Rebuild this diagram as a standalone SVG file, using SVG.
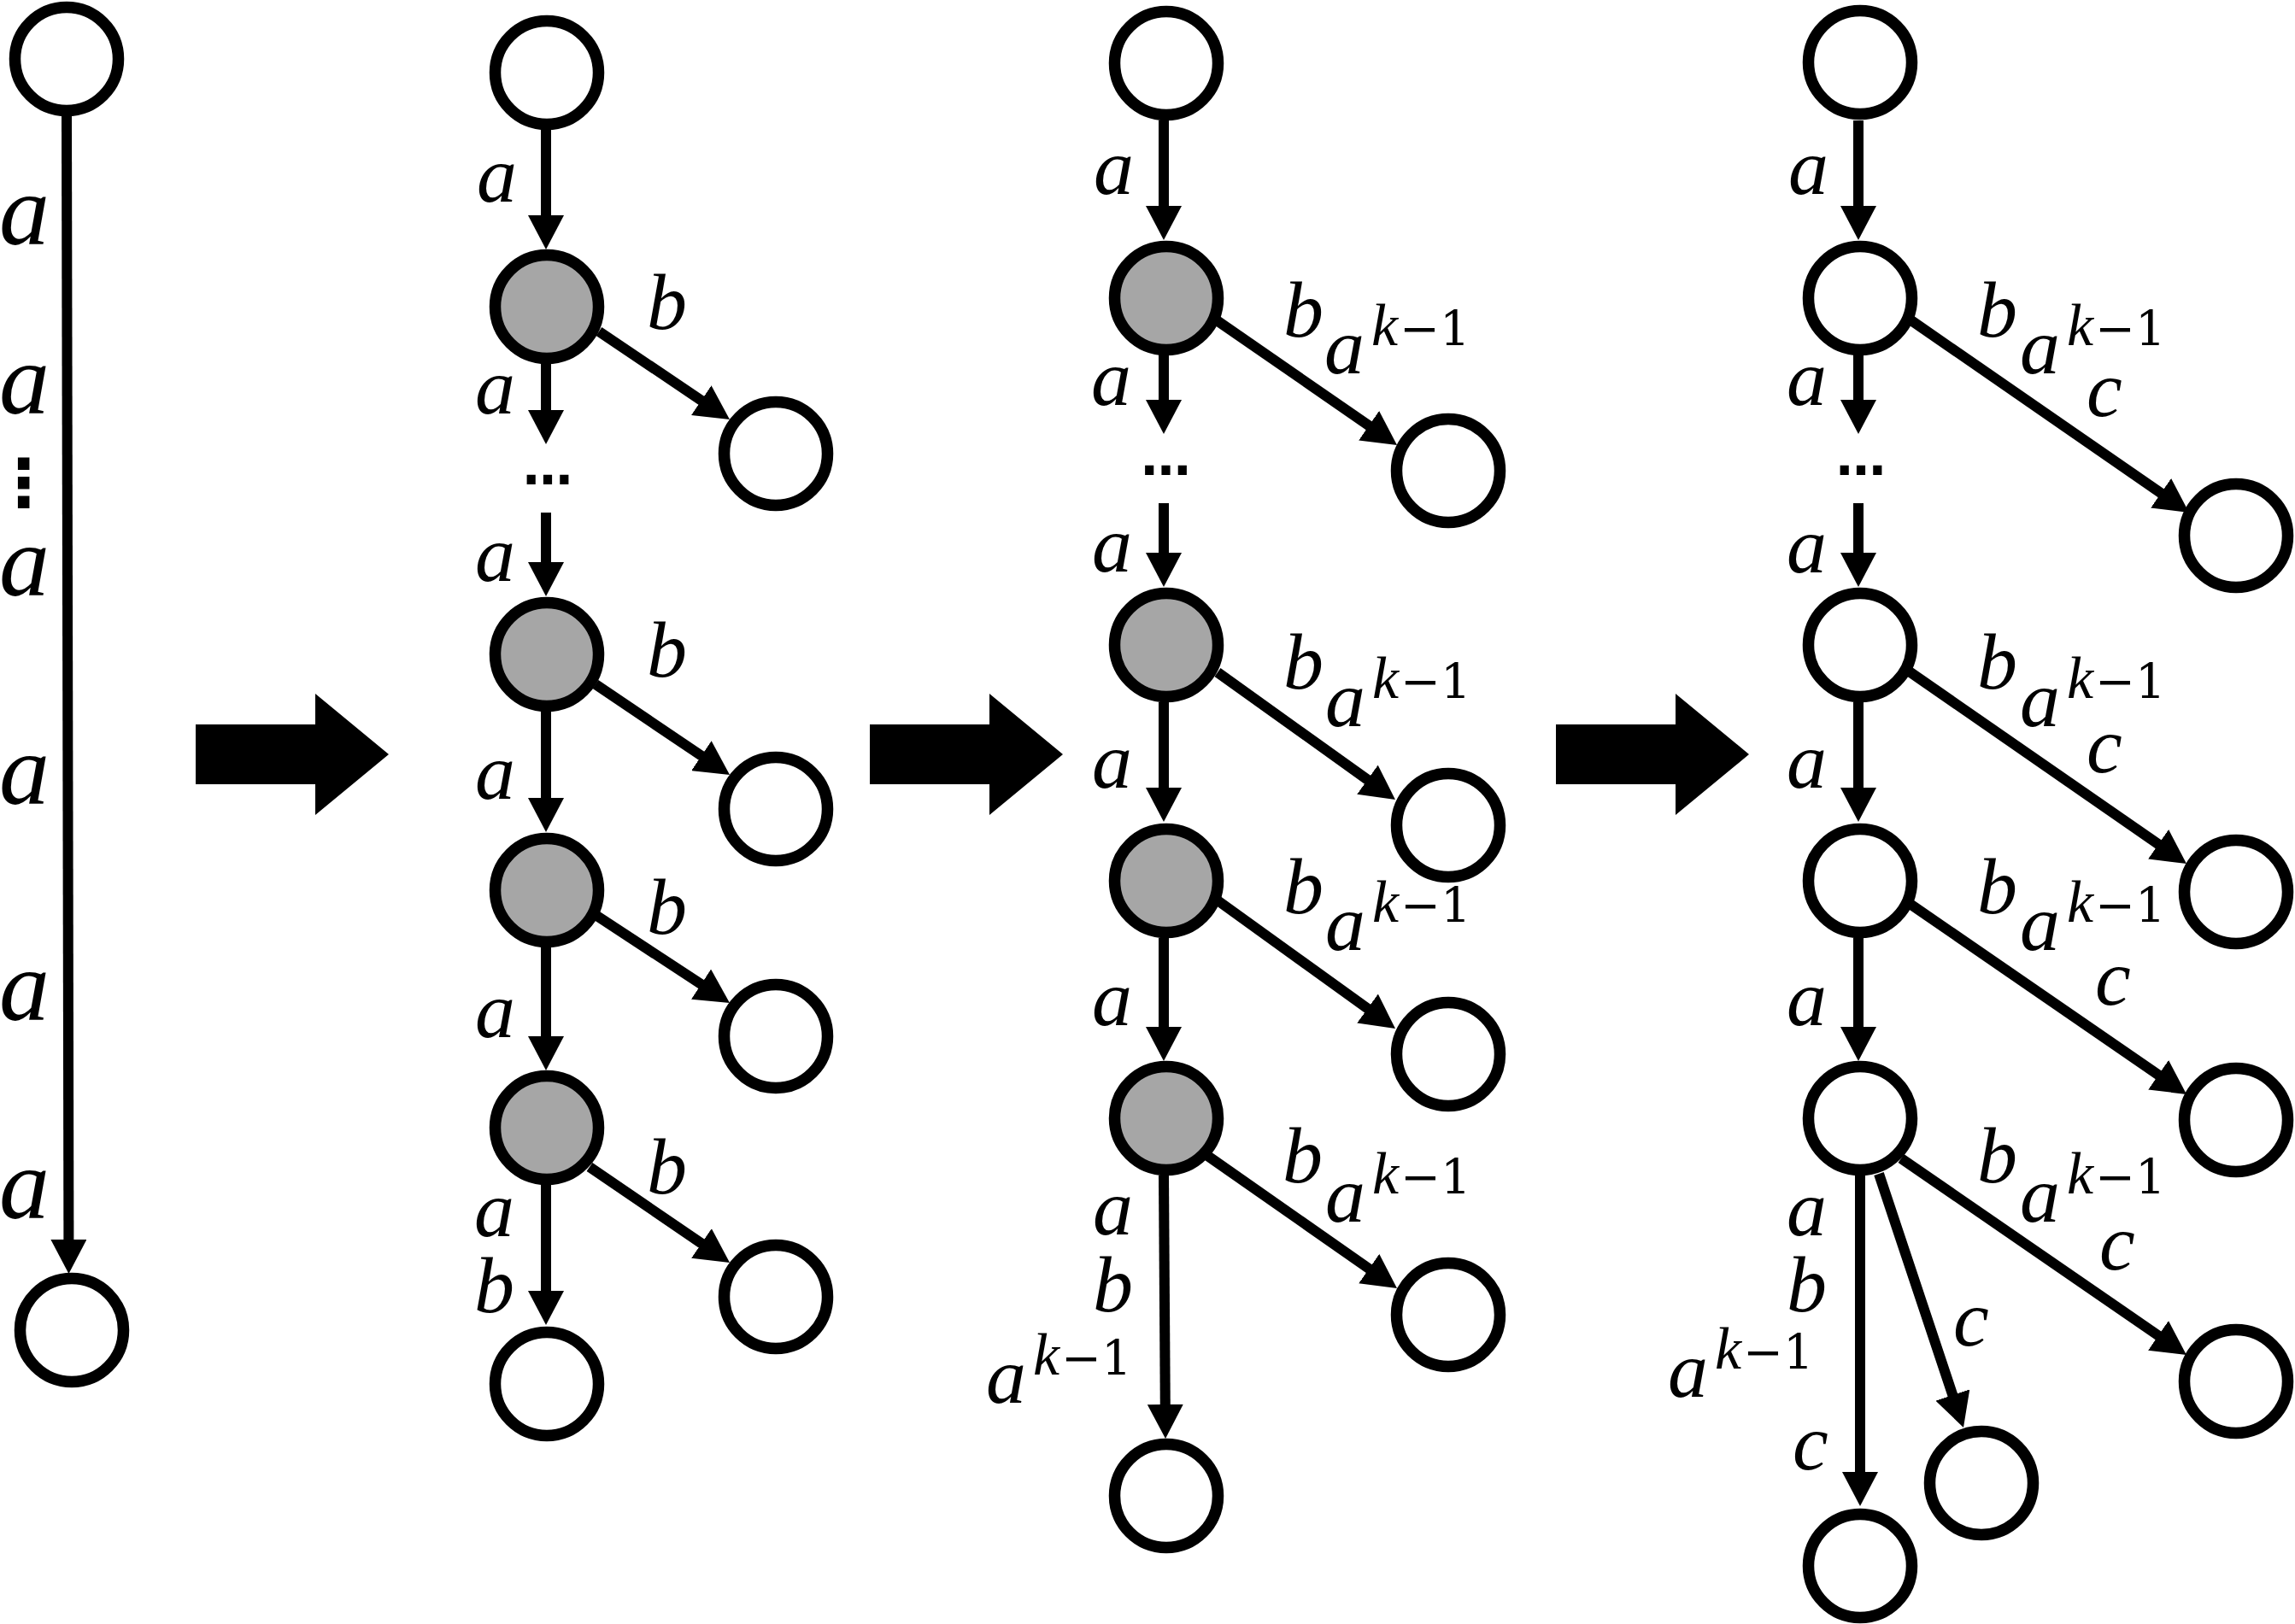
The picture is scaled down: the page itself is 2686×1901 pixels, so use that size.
<svg xmlns="http://www.w3.org/2000/svg" width="2686" height="1901" viewBox="0 0 2686 1901">
<style>
.node{stroke:#000;stroke-width:13.5;fill:#fff}
.gray{fill:#a6a6a6}
.edge{stroke:#000;stroke-width:12;fill:none;marker-end:url(#ah)}
.l{font-family:"Liberation Serif",serif;font-style:italic;font-size:94px}
.lb{font-family:"Liberation Serif",serif;font-style:italic;font-size:118px}
.k{font-family:"Liberation Serif",serif;font-style:italic;font-size:70px}
.m{font-family:"DejaVu Serif",serif;font-style:normal;font-size:56px}
.dots{font-family:"DejaVu Sans",sans-serif;font-weight:bold;font-size:58px}
.vdots{font-family:"DejaVu Sans",sans-serif;font-weight:bold;font-size:77px}
.big{fill:#000}
</style>
<defs>
<marker id="ah" markerUnits="userSpaceOnUse" markerWidth="40" markerHeight="42" viewBox="0 -21 40 42" refX="4" refY="0" orient="auto"><path d="M0,-21 L40,0 L0,21 z" fill="#000"/></marker>
<g id="ak">
<text class="l" x="-2" y="0">a</text>
<text class="k" x="53" y="-33">k</text>
<text class="m" x="86" y="-33">−</text>
<text class="m" x="133" y="-33">1</text>
</g>
</defs>
<rect width="2686" height="1901" fill="#fff"/>

<g id="connectors">
<line class="edge" x1="78" y1="136" x2="80.4" y2="1455"/>
<line class="edge" x1="639" y1="152" x2="639" y2="256"/>
<line class="edge" x1="639" y1="426" x2="639" y2="484"/>
<line class="edge" x1="639" y1="600" x2="639" y2="662"/>
<line class="edge" x1="639" y1="833" x2="639" y2="938"/>
<line class="edge" x1="639" y1="1109" x2="639" y2="1217"/>
<line class="edge" x1="639" y1="1387" x2="639" y2="1515"/>
<line class="edge" x1="701" y1="388" x2="824.1" y2="470.9"/>
<line class="edge" x1="697" y1="801" x2="824.2" y2="886.9"/>
<line class="edge" x1="697" y1="1071" x2="823.9" y2="1154.3"/>
<line class="edge" x1="690" y1="1366" x2="824.3" y2="1457.7"/>

<line class="edge" x1="1362" y1="141" x2="1362" y2="245"/>
<line class="edge" x1="1362" y1="415" x2="1362" y2="472"/>
<line class="edge" x1="1362" y1="589" x2="1362" y2="651"/>
<line class="edge" x1="1362" y1="822" x2="1362" y2="926"/>
<line class="edge" x1="1362" y1="1098" x2="1362" y2="1206"/>
<line class="edge" x1="1362" y1="1376" x2="1363.8" y2="1648"/>
<line class="edge" x1="1424" y1="375" x2="1605.4" y2="500.5"/>
<line class="edge" x1="1425" y1="787" x2="1603.7" y2="915"/>
<line class="edge" x1="1425" y1="1054" x2="1603.8" y2="1182.9"/>
<line class="edge" x1="1412" y1="1352" x2="1605.5" y2="1487.4"/>

<line class="edge" x1="2175" y1="141" x2="2175" y2="245"/>
<line class="edge" x1="2175" y1="415" x2="2175" y2="472"/>
<line class="edge" x1="2175" y1="589" x2="2175" y2="651"/>
<line class="edge" x1="2175" y1="822" x2="2175" y2="926"/>
<line class="edge" x1="2175" y1="1098" x2="2175" y2="1206"/>
<line class="edge" x1="2177" y1="1376" x2="2177" y2="1727"/>
<line class="edge" x1="2231" y1="371" x2="2532.4" y2="579.5"/>
<line class="edge" x1="2233" y1="785" x2="2529.4" y2="990.5"/>
<line class="edge" x1="2231" y1="1055" x2="2529.4" y2="1260.5"/>
<line class="edge" x1="2225" y1="1356" x2="2529.3" y2="1565.6"/>
<line class="edge" x1="2199" y1="1374" x2="2286.6" y2="1636.8"/>
</g>

<g id="transform-arrows">
<polygon class="big" points="229,848 369,848 369,812 455,883 369,954 369,918 229,918"/>
<polygon class="big" points="1018,848 1158,848 1158,812 1244,883 1158,954 1158,918 1018,918"/>
<polygon class="big" points="1821,848 1961,848 1961,812 2047,883 1961,954 1961,918 1821,918"/>
</g>

<g id="n1-0"><circle class="node" cx="78" cy="69" r="60.5"/></g>
<g id="n1-1"><circle class="node" cx="84" cy="1557" r="60.5"/></g>

<g id="n2-0"><circle class="node" cx="640" cy="85" r="60.5"/></g>
<g id="n2-1"><circle class="node gray" cx="640" cy="359" r="60.5"/></g>
<g id="n2-2"><circle class="node gray" cx="640" cy="766" r="60.5"/></g>
<g id="n2-3"><circle class="node gray" cx="640" cy="1042" r="60.5"/></g>
<g id="n2-4"><circle class="node gray" cx="640" cy="1320" r="60.5"/></g>
<g id="n2-5"><circle class="node" cx="640" cy="1620" r="60.5"/></g>
<g id="n2-b1"><circle class="node" cx="908" cy="531" r="60.5"/></g>
<g id="n2-b2"><circle class="node" cx="908" cy="947" r="60.5"/></g>
<g id="n2-b3"><circle class="node" cx="908" cy="1213" r="60.5"/></g>
<g id="n2-b4"><circle class="node" cx="908" cy="1518" r="60.5"/></g>

<g id="n3-0"><circle class="node" cx="1365" cy="74" r="60.5"/></g>
<g id="n3-1"><circle class="node gray" cx="1365" cy="349" r="60.5"/></g>
<g id="n3-2"><circle class="node gray" cx="1365" cy="755" r="60.5"/></g>
<g id="n3-3"><circle class="node gray" cx="1365" cy="1031" r="60.5"/></g>
<g id="n3-4"><circle class="node gray" cx="1365" cy="1309" r="60.5"/></g>
<g id="n3-5"><circle class="node" cx="1365" cy="1751" r="60.5"/></g>
<g id="n3-b1"><circle class="node" cx="1695" cy="551" r="60.5"/></g>
<g id="n3-b2"><circle class="node" cx="1695" cy="966" r="60.5"/></g>
<g id="n3-b3"><circle class="node" cx="1695" cy="1234" r="60.5"/></g>
<g id="n3-b4"><circle class="node" cx="1695" cy="1539" r="60.5"/></g>

<g id="n4-0"><circle class="node" cx="2177" cy="73" r="60.5"/></g>
<g id="n4-1"><circle class="node" cx="2177" cy="349" r="60.5"/></g>
<g id="n4-2"><circle class="node" cx="2177" cy="755" r="60.5"/></g>
<g id="n4-3"><circle class="node" cx="2177" cy="1031" r="60.5"/></g>
<g id="n4-4"><circle class="node" cx="2177" cy="1309" r="60.5"/></g>
<g id="n4-5"><circle class="node" cx="2177" cy="1833" r="60.5"/></g>
<g id="n4-b1"><circle class="node" cx="2617" cy="627" r="60.5"/></g>
<g id="n4-b2"><circle class="node" cx="2617" cy="1044" r="60.5"/></g>
<g id="n4-b3"><circle class="node" cx="2617" cy="1311" r="60.5"/></g>
<g id="n4-b4"><circle class="node" cx="2617" cy="1617" r="60.5"/></g>
<g id="n4-c"><circle class="node" cx="2319" cy="1736" r="60.5"/></g>

<g id="labels">
<text class="lb" x="-1" y="286">a</text>
<text class="lb" x="-1" y="484">a</text>
<text class="vdots" x="27.5" y="592" text-anchor="middle">⋮</text>
<text class="lb" x="-1" y="697">a</text>
<text class="lb" x="-1" y="941">a</text>
<text class="lb" x="-1" y="1194">a</text>
<text class="lb" x="-1" y="1426">a</text>

<text class="l" x="558" y="236">a</text>
<text class="l" x="757" y="385">b</text>
<text class="l" x="556" y="484">a</text>
<text class="dots" x="641" y="567" text-anchor="middle">…</text>
<text class="l" x="556" y="680">a</text>
<text class="l" x="757" y="792">b</text>
<text class="l" x="556" y="935">a</text>
<text class="l" x="757" y="1093">b</text>
<text class="l" x="556" y="1214">a</text>
<text class="l" x="757" y="1397">b</text>
<text class="l" x="555" y="1447">a</text>
<text class="l" x="555" y="1536">b</text>

<text class="l" x="1280" y="227">a</text>
<text class="l" x="1502" y="394">b</text>
<use href="#ak" x="1552" y="437"/>
<text class="l" x="1277" y="474">a</text>
<text class="dots" x="1364.5" y="556" text-anchor="middle">…</text>
<text class="l" x="1278" y="669">a</text>
<text class="l" x="1502" y="806">b</text>
<use href="#ak" x="1553" y="850"/>
<text class="l" x="1278" y="922">a</text>
<text class="l" x="1502" y="1069">b</text>
<use href="#ak" x="1553" y="1112"/>
<text class="l" x="1278" y="1200">a</text>
<text class="l" x="1501" y="1384">b</text>
<use href="#ak" x="1553" y="1430"/>
<text class="l" x="1279" y="1445">a</text>
<text class="l" x="1279" y="1535">b</text>
<use href="#ak" x="1156" y="1642"/>

<text class="l" x="2093" y="227">a</text>
<text class="l" x="2314" y="394">b</text>
<use href="#ak" x="2366" y="437"/>
<text class="l" x="2442" y="487">c</text>
<text class="l" x="2091" y="474">a</text>
<text class="dots" x="2178" y="556" text-anchor="middle">…</text>
<text class="l" x="2091" y="670">a</text>
<text class="l" x="2314" y="806">b</text>
<use href="#ak" x="2366" y="850"/>
<text class="l" x="2442" y="904">c</text>
<text class="l" x="2091" y="922">a</text>
<text class="l" x="2314" y="1069">b</text>
<use href="#ak" x="2366" y="1112"/>
<text class="l" x="2452" y="1176">c</text>
<text class="l" x="2091" y="1200">a</text>
<text class="l" x="2314" y="1384">b</text>
<use href="#ak" x="2366" y="1430"/>
<text class="l" x="2457" y="1486">c</text>
<text class="l" x="2091" y="1446">a</text>
<text class="l" x="2091" y="1535">b</text>
<use href="#ak" x="1954" y="1635"/>
<text class="l" x="2098" y="1720">c</text>
<text class="l" x="2286" y="1575">c</text>
</g>
</svg>
